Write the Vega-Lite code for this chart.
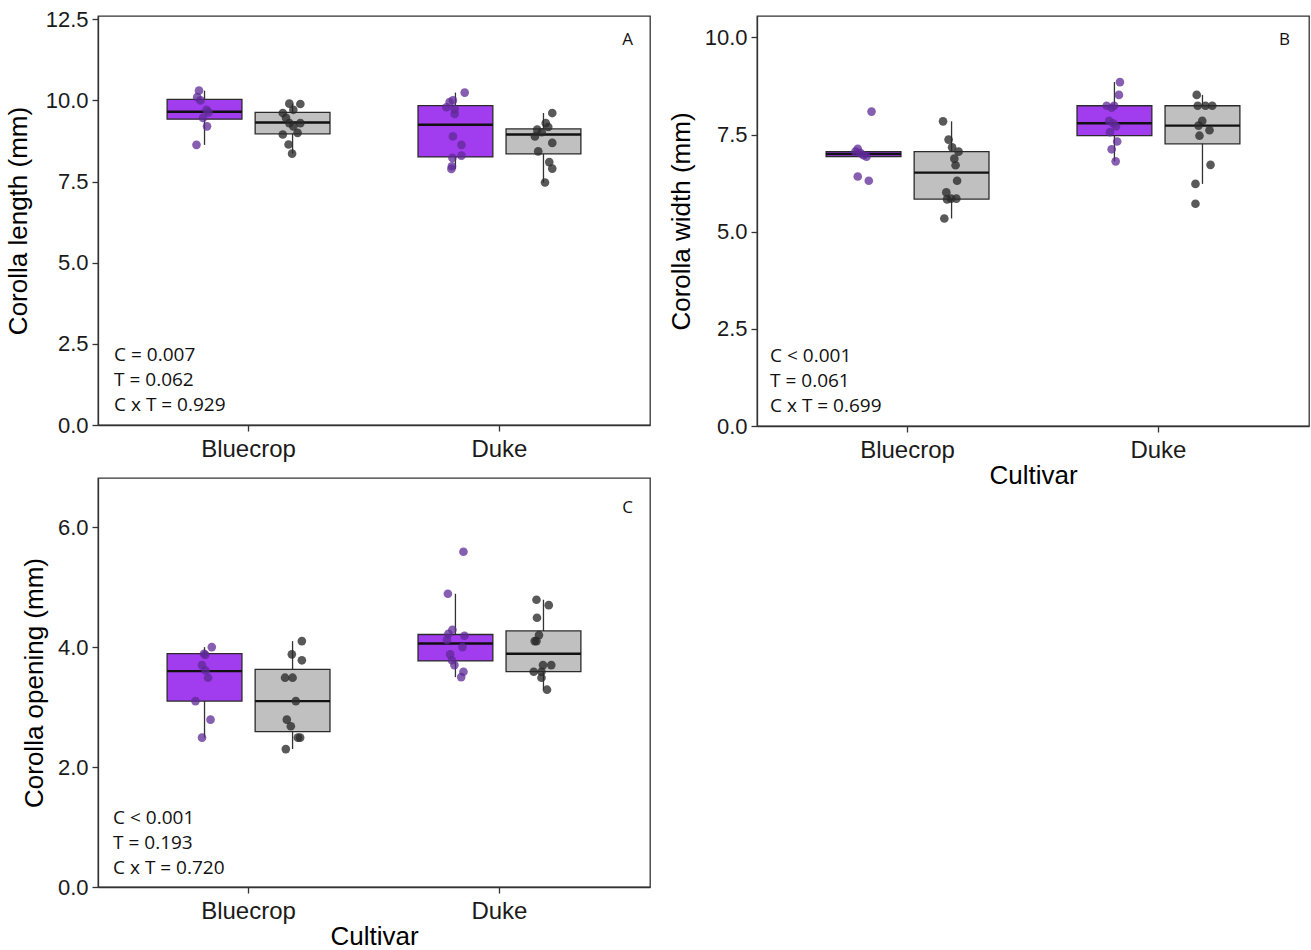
{
"$schema": "https://vega.github.io/schema/vega-lite/v6.json",
"padding": {"left": 4, "top": 7, "right": 2, "bottom": 2},
"background": "white",
"datasets": {
"pts": [
{"panel":"A","cultivar":"Bluecrop","treatment":"Treatment 1","value":10.30,"jitter":-0.022},
{"panel":"A","cultivar":"Bluecrop","treatment":"Treatment 1","value":10.10,"jitter":-0.029},
{"panel":"A","cultivar":"Bluecrop","treatment":"Treatment 1","value":10.00,"jitter":-0.016},
{"panel":"A","cultivar":"Bluecrop","treatment":"Treatment 1","value":9.71,"jitter":0.008},
{"panel":"A","cultivar":"Bluecrop","treatment":"Treatment 1","value":9.63,"jitter":0.016},
{"panel":"A","cultivar":"Bluecrop","treatment":"Treatment 1","value":9.46,"jitter":-0.006},
{"panel":"A","cultivar":"Bluecrop","treatment":"Treatment 1","value":9.20,"jitter":0.010},
{"panel":"A","cultivar":"Bluecrop","treatment":"Treatment 1","value":8.63,"jitter":-0.032},
{"panel":"A","cultivar":"Bluecrop","treatment":"Treatment 2","value":9.90,"jitter":-0.013},
{"panel":"A","cultivar":"Bluecrop","treatment":"Treatment 2","value":9.89,"jitter":0.031},
{"panel":"A","cultivar":"Bluecrop","treatment":"Treatment 2","value":9.71,"jitter":0.003},
{"panel":"A","cultivar":"Bluecrop","treatment":"Treatment 2","value":9.61,"jitter":-0.039},
{"panel":"A","cultivar":"Bluecrop","treatment":"Treatment 2","value":9.46,"jitter":-0.026},
{"panel":"A","cultivar":"Bluecrop","treatment":"Treatment 2","value":9.30,"jitter":-0.013},
{"panel":"A","cultivar":"Bluecrop","treatment":"Treatment 2","value":9.30,"jitter":0.031},
{"panel":"A","cultivar":"Bluecrop","treatment":"Treatment 2","value":9.20,"jitter":0.003},
{"panel":"A","cultivar":"Bluecrop","treatment":"Treatment 2","value":9.00,"jitter":0.020},
{"panel":"A","cultivar":"Bluecrop","treatment":"Treatment 2","value":8.95,"jitter":-0.039},
{"panel":"A","cultivar":"Bluecrop","treatment":"Treatment 2","value":8.64,"jitter":-0.016},
{"panel":"A","cultivar":"Bluecrop","treatment":"Treatment 2","value":8.36,"jitter":-0.002},
{"panel":"A","cultivar":"Duke","treatment":"Treatment 1","value":10.24,"jitter":0.037},
{"panel":"A","cultivar":"Duke","treatment":"Treatment 1","value":10.00,"jitter":-0.010},
{"panel":"A","cultivar":"Duke","treatment":"Treatment 1","value":9.95,"jitter":-0.023},
{"panel":"A","cultivar":"Duke","treatment":"Treatment 1","value":9.79,"jitter":-0.036},
{"panel":"A","cultivar":"Duke","treatment":"Treatment 1","value":9.73,"jitter":-0.003},
{"panel":"A","cultivar":"Duke","treatment":"Treatment 1","value":9.58,"jitter":-0.003},
{"panel":"A","cultivar":"Duke","treatment":"Treatment 1","value":8.89,"jitter":-0.010},
{"panel":"A","cultivar":"Duke","treatment":"Treatment 1","value":8.63,"jitter":0.024},
{"panel":"A","cultivar":"Duke","treatment":"Treatment 1","value":8.30,"jitter":0.024},
{"panel":"A","cultivar":"Duke","treatment":"Treatment 1","value":8.23,"jitter":-0.012},
{"panel":"A","cultivar":"Duke","treatment":"Treatment 1","value":7.97,"jitter":-0.014},
{"panel":"A","cultivar":"Duke","treatment":"Treatment 1","value":7.89,"jitter":-0.016},
{"panel":"A","cultivar":"Duke","treatment":"Treatment 2","value":9.61,"jitter":0.035},
{"panel":"A","cultivar":"Duke","treatment":"Treatment 2","value":9.30,"jitter":0.009},
{"panel":"A","cultivar":"Duke","treatment":"Treatment 2","value":9.18,"jitter":0.019},
{"panel":"A","cultivar":"Duke","treatment":"Treatment 2","value":9.10,"jitter":-0.025},
{"panel":"A","cultivar":"Duke","treatment":"Treatment 2","value":9.02,"jitter":-0.007},
{"panel":"A","cultivar":"Duke","treatment":"Treatment 2","value":8.89,"jitter":-0.034},
{"panel":"A","cultivar":"Duke","treatment":"Treatment 2","value":8.69,"jitter":0.035},
{"panel":"A","cultivar":"Duke","treatment":"Treatment 2","value":8.43,"jitter":-0.021},
{"panel":"A","cultivar":"Duke","treatment":"Treatment 2","value":8.10,"jitter":0.023},
{"panel":"A","cultivar":"Duke","treatment":"Treatment 2","value":7.90,"jitter":0.035},
{"panel":"A","cultivar":"Duke","treatment":"Treatment 2","value":7.47,"jitter":0.006},
{"panel":"B","cultivar":"Bluecrop","treatment":"Treatment 1","value":8.09,"jitter":0.032},
{"panel":"B","cultivar":"Bluecrop","treatment":"Treatment 1","value":7.13,"jitter":-0.023},
{"panel":"B","cultivar":"Bluecrop","treatment":"Treatment 1","value":7.06,"jitter":-0.032},
{"panel":"B","cultivar":"Bluecrop","treatment":"Treatment 1","value":7.02,"jitter":-0.012},
{"panel":"B","cultivar":"Bluecrop","treatment":"Treatment 1","value":6.97,"jitter":0.000},
{"panel":"B","cultivar":"Bluecrop","treatment":"Treatment 1","value":6.93,"jitter":0.012},
{"panel":"B","cultivar":"Bluecrop","treatment":"Treatment 1","value":6.42,"jitter":-0.023},
{"panel":"B","cultivar":"Bluecrop","treatment":"Treatment 1","value":6.31,"jitter":0.021},
{"panel":"B","cultivar":"Bluecrop","treatment":"Treatment 2","value":7.84,"jitter":-0.034},
{"panel":"B","cultivar":"Bluecrop","treatment":"Treatment 2","value":7.37,"jitter":-0.012},
{"panel":"B","cultivar":"Bluecrop","treatment":"Treatment 2","value":7.17,"jitter":0.002},
{"panel":"B","cultivar":"Bluecrop","treatment":"Treatment 2","value":7.06,"jitter":0.028},
{"panel":"B","cultivar":"Bluecrop","treatment":"Treatment 2","value":6.88,"jitter":0.011},
{"panel":"B","cultivar":"Bluecrop","treatment":"Treatment 2","value":6.71,"jitter":0.016},
{"panel":"B","cultivar":"Bluecrop","treatment":"Treatment 2","value":6.31,"jitter":0.022},
{"panel":"B","cultivar":"Bluecrop","treatment":"Treatment 2","value":6.01,"jitter":-0.021},
{"panel":"B","cultivar":"Bluecrop","treatment":"Treatment 2","value":5.83,"jitter":-0.018},
{"panel":"B","cultivar":"Bluecrop","treatment":"Treatment 2","value":5.85,"jitter":-0.002},
{"panel":"B","cultivar":"Bluecrop","treatment":"Treatment 2","value":5.85,"jitter":0.019},
{"panel":"B","cultivar":"Bluecrop","treatment":"Treatment 2","value":5.34,"jitter":-0.029},
{"panel":"B","cultivar":"Duke","treatment":"Treatment 1","value":8.85,"jitter":0.022},
{"panel":"B","cultivar":"Duke","treatment":"Treatment 1","value":8.52,"jitter":0.018},
{"panel":"B","cultivar":"Duke","treatment":"Treatment 1","value":8.24,"jitter":-0.031},
{"panel":"B","cultivar":"Duke","treatment":"Treatment 1","value":8.19,"jitter":-0.011},
{"panel":"B","cultivar":"Duke","treatment":"Treatment 1","value":8.24,"jitter":-0.001},
{"panel":"B","cultivar":"Duke","treatment":"Treatment 1","value":7.85,"jitter":-0.021},
{"panel":"B","cultivar":"Duke","treatment":"Treatment 1","value":7.79,"jitter":-0.005},
{"panel":"B","cultivar":"Duke","treatment":"Treatment 1","value":7.71,"jitter":0.006},
{"panel":"B","cultivar":"Duke","treatment":"Treatment 1","value":7.56,"jitter":-0.018},
{"panel":"B","cultivar":"Duke","treatment":"Treatment 1","value":7.32,"jitter":0.011},
{"panel":"B","cultivar":"Duke","treatment":"Treatment 1","value":7.12,"jitter":-0.011},
{"panel":"B","cultivar":"Duke","treatment":"Treatment 1","value":6.81,"jitter":0.005},
{"panel":"B","cultivar":"Duke","treatment":"Treatment 2","value":8.52,"jitter":-0.023},
{"panel":"B","cultivar":"Duke","treatment":"Treatment 2","value":8.24,"jitter":-0.019},
{"panel":"B","cultivar":"Duke","treatment":"Treatment 2","value":8.24,"jitter":0.012},
{"panel":"B","cultivar":"Duke","treatment":"Treatment 2","value":8.24,"jitter":0.039},
{"panel":"B","cultivar":"Duke","treatment":"Treatment 2","value":7.85,"jitter":-0.001},
{"panel":"B","cultivar":"Duke","treatment":"Treatment 2","value":7.73,"jitter":-0.016},
{"panel":"B","cultivar":"Duke","treatment":"Treatment 2","value":7.61,"jitter":0.028},
{"panel":"B","cultivar":"Duke","treatment":"Treatment 2","value":7.47,"jitter":-0.012},
{"panel":"B","cultivar":"Duke","treatment":"Treatment 2","value":6.72,"jitter":0.032},
{"panel":"B","cultivar":"Duke","treatment":"Treatment 2","value":6.23,"jitter":-0.028},
{"panel":"B","cultivar":"Duke","treatment":"Treatment 2","value":5.72,"jitter":-0.028},
{"panel":"C","cultivar":"Bluecrop","treatment":"Treatment 1","value":4.00,"jitter":0.029},
{"panel":"C","cultivar":"Bluecrop","treatment":"Treatment 1","value":3.89,"jitter":-0.002},
{"panel":"C","cultivar":"Bluecrop","treatment":"Treatment 1","value":3.87,"jitter":0.003},
{"panel":"C","cultivar":"Bluecrop","treatment":"Treatment 1","value":3.70,"jitter":-0.010},
{"panel":"C","cultivar":"Bluecrop","treatment":"Treatment 1","value":3.61,"jitter":0.004},
{"panel":"C","cultivar":"Bluecrop","treatment":"Treatment 1","value":3.49,"jitter":0.014},
{"panel":"C","cultivar":"Bluecrop","treatment":"Treatment 1","value":3.10,"jitter":-0.036},
{"panel":"C","cultivar":"Bluecrop","treatment":"Treatment 1","value":2.79,"jitter":0.024},
{"panel":"C","cultivar":"Bluecrop","treatment":"Treatment 1","value":2.49,"jitter":-0.010},
{"panel":"C","cultivar":"Bluecrop","treatment":"Treatment 2","value":4.10,"jitter":0.037},
{"panel":"C","cultivar":"Bluecrop","treatment":"Treatment 2","value":3.88,"jitter":-0.003},
{"panel":"C","cultivar":"Bluecrop","treatment":"Treatment 2","value":3.78,"jitter":0.037},
{"panel":"C","cultivar":"Bluecrop","treatment":"Treatment 2","value":3.49,"jitter":-0.030},
{"panel":"C","cultivar":"Bluecrop","treatment":"Treatment 2","value":3.49,"jitter":0.000},
{"panel":"C","cultivar":"Bluecrop","treatment":"Treatment 2","value":3.10,"jitter":0.013},
{"panel":"C","cultivar":"Bluecrop","treatment":"Treatment 2","value":2.79,"jitter":-0.023},
{"panel":"C","cultivar":"Bluecrop","treatment":"Treatment 2","value":2.68,"jitter":-0.007},
{"panel":"C","cultivar":"Bluecrop","treatment":"Treatment 2","value":2.49,"jitter":0.021},
{"panel":"C","cultivar":"Bluecrop","treatment":"Treatment 2","value":2.49,"jitter":0.030},
{"panel":"C","cultivar":"Bluecrop","treatment":"Treatment 2","value":2.30,"jitter":-0.027},
{"panel":"C","cultivar":"Duke","treatment":"Treatment 1","value":5.59,"jitter":0.032},
{"panel":"C","cultivar":"Duke","treatment":"Treatment 1","value":4.89,"jitter":-0.030},
{"panel":"C","cultivar":"Duke","treatment":"Treatment 1","value":4.29,"jitter":-0.012},
{"panel":"C","cultivar":"Duke","treatment":"Treatment 1","value":4.22,"jitter":-0.028},
{"panel":"C","cultivar":"Duke","treatment":"Treatment 1","value":4.19,"jitter":0.036},
{"panel":"C","cultivar":"Duke","treatment":"Treatment 1","value":4.12,"jitter":-0.034},
{"panel":"C","cultivar":"Duke","treatment":"Treatment 1","value":4.00,"jitter":0.028},
{"panel":"C","cultivar":"Duke","treatment":"Treatment 1","value":3.88,"jitter":-0.021},
{"panel":"C","cultivar":"Duke","treatment":"Treatment 1","value":3.78,"jitter":-0.014},
{"panel":"C","cultivar":"Duke","treatment":"Treatment 1","value":3.70,"jitter":-0.004},
{"panel":"C","cultivar":"Duke","treatment":"Treatment 1","value":3.59,"jitter":0.032},
{"panel":"C","cultivar":"Duke","treatment":"Treatment 1","value":3.50,"jitter":0.023},
{"panel":"C","cultivar":"Duke","treatment":"Treatment 2","value":4.79,"jitter":-0.028},
{"panel":"C","cultivar":"Duke","treatment":"Treatment 2","value":4.70,"jitter":0.021},
{"panel":"C","cultivar":"Duke","treatment":"Treatment 2","value":4.49,"jitter":-0.026},
{"panel":"C","cultivar":"Duke","treatment":"Treatment 2","value":4.20,"jitter":-0.018},
{"panel":"C","cultivar":"Duke","treatment":"Treatment 2","value":4.10,"jitter":-0.035},
{"panel":"C","cultivar":"Duke","treatment":"Treatment 2","value":4.10,"jitter":-0.028},
{"panel":"C","cultivar":"Duke","treatment":"Treatment 2","value":3.70,"jitter":-0.002},
{"panel":"C","cultivar":"Duke","treatment":"Treatment 2","value":3.70,"jitter":0.031},
{"panel":"C","cultivar":"Duke","treatment":"Treatment 2","value":3.59,"jitter":-0.039},
{"panel":"C","cultivar":"Duke","treatment":"Treatment 2","value":3.59,"jitter":-0.008},
{"panel":"C","cultivar":"Duke","treatment":"Treatment 2","value":3.49,"jitter":-0.008},
{"panel":"C","cultivar":"Duke","treatment":"Treatment 2","value":3.29,"jitter":0.014}
],
"box": [
{"panel":"A","cultivar":"Bluecrop","treatment":"Treatment 1","lower":8.63,"q1":9.42,"median":9.65,"q3":10.03,"upper":10.30},
{"panel":"A","cultivar":"Bluecrop","treatment":"Treatment 2","lower":8.36,"q1":8.97,"median":9.32,"q3":9.63,"upper":9.90},
{"panel":"A","cultivar":"Duke","treatment":"Treatment 1","lower":7.89,"q1":8.26,"median":9.25,"q3":9.84,"upper":10.24},
{"panel":"A","cultivar":"Duke","treatment":"Treatment 2","lower":7.47,"q1":8.35,"median":8.95,"q3":9.12,"upper":9.61},
{"panel":"B","cultivar":"Bluecrop","treatment":"Treatment 1","lower":6.93,"q1":6.93,"median":7.00,"q3":7.06,"upper":7.06},
{"panel":"B","cultivar":"Bluecrop","treatment":"Treatment 2","lower":5.34,"q1":5.84,"median":6.52,"q3":7.06,"upper":7.84},
{"panel":"B","cultivar":"Duke","treatment":"Treatment 1","lower":6.81,"q1":7.47,"median":7.79,"q3":8.24,"upper":8.85},
{"panel":"B","cultivar":"Duke","treatment":"Treatment 2","lower":6.23,"q1":7.26,"median":7.73,"q3":8.24,"upper":8.52},
{"panel":"C","cultivar":"Bluecrop","treatment":"Treatment 1","lower":2.49,"q1":3.10,"median":3.60,"q3":3.89,"upper":4.00},
{"panel":"C","cultivar":"Bluecrop","treatment":"Treatment 2","lower":2.30,"q1":2.59,"median":3.10,"q3":3.63,"upper":4.10},
{"panel":"C","cultivar":"Duke","treatment":"Treatment 1","lower":3.50,"q1":3.77,"median":4.06,"q3":4.21,"upper":4.89},
{"panel":"C","cultivar":"Duke","treatment":"Treatment 2","lower":3.29,"q1":3.59,"median":3.89,"q3":4.27,"upper":4.79}
],
"notes": [
{"panel":"A","stats":"C = 0.007\nT = 0.062\nC x T = 0.929","letter":"A"},
{"panel":"B","stats":"C < 0.001\nT = 0.061\nC x T = 0.699","letter":"B"},
{"panel":"C","stats":"C < 0.001\nT = 0.193\nC x T = 0.720","letter":"C"}
]
},
"columns": 2,
"bounds": "flush",
"spacing": {"row": 52, "column": 107},
"concat": [
{
"width": 552, "height": 409,
"encoding": {"x": {"field": "cultivar", "type": "nominal", "sort": ["Bluecrop","Duke"], "scale": {"type": "band", "paddingInner": 0, "paddingOuter": 0.1}, "axis": {"title": null, "labelAngle": 0, "labelFontSize": 24, "labelPadding": 6, "titlePadding": 0}}},
"layer": [
{"data": {"name": "box"}, "transform": [{"filter": "datum.panel == 'A'"}],
 "mark": {"type": "rule", "color": "#333333", "strokeWidth": 1.3},
 "encoding": {"xOffset": {"field": "treatment", "type": "nominal", "sort": ["Treatment 1","Treatment 2"], "scale": {"paddingInner": 0.15, "paddingOuter": 0.5}},
  "y": {"field": "lower", "type": "quantitative", "scale": {"domain": [0, 12.6], "nice": false}, "axis": {"title": "Corolla length (mm)", "values": [0, 2.5, 5, 7.5, 10, 12.5], "format": ".1f", "titlePadding": 14}},
  "y2": {"field": "upper"}}},
{"data": {"name": "box"}, "transform": [{"filter": "datum.panel == 'A'"}],
 "mark": {"type": "bar", "stroke": "#2b2b2b", "strokeWidth": 1.3},
 "encoding": {"xOffset": {"field": "treatment", "type": "nominal", "sort": ["Treatment 1","Treatment 2"], "scale": {"paddingInner": 0.15, "paddingOuter": 0.5}},
  "y": {"field": "q1", "type": "quantitative"}, "y2": {"field": "q3"},
  "color": {"field": "treatment", "type": "nominal", "scale": {"domain": ["Treatment 1","Treatment 2"], "range": ["#A23DEF","#C0C0C0"]}, "legend": null}}},
{"data": {"name": "box"}, "transform": [{"filter": "datum.panel == 'A'"}],
 "mark": {"type": "bar", "fillOpacity": 0, "stroke": "#111111", "strokeWidth": 2.4},
 "encoding": {"xOffset": {"field": "treatment", "type": "nominal", "sort": ["Treatment 1","Treatment 2"], "scale": {"paddingInner": 0.15, "paddingOuter": 0.5}},
  "y": {"field": "median", "type": "quantitative"}, "y2": {"field": "median"}}},
{"data": {"name": "pts"}, "transform": [{"filter": "datum.panel == 'A' && datum.treatment == 'Treatment 1'"}],
 "mark": {"type": "point", "filled": true, "size": 75, "color": "#5e2a96", "opacity": 0.75},
 "encoding": {"xOffset": {"field": "jitter", "type": "quantitative", "scale": {"domain": [-0.3245, 0.6755], "zero": false, "nice": false}},
  "y": {"field": "value", "type": "quantitative"}}},
{"data": {"name": "pts"}, "transform": [{"filter": "datum.panel == 'A' && datum.treatment == 'Treatment 2'"}],
 "mark": {"type": "point", "filled": true, "size": 75, "color": "#2a2a2a", "opacity": 0.78},
 "encoding": {"xOffset": {"field": "jitter", "type": "quantitative", "scale": {"domain": [-0.6755, 0.3245], "zero": false, "nice": false}},
  "y": {"field": "value", "type": "quantitative"}}},
{"data": {"name": "notes"}, "transform": [{"filter": "datum.panel == 'A'"}],
 "mark": {"type": "text", "align": "left", "baseline": "alphabetic", "lineBreak": "\n", "lineHeight": 25, "font": "Open Sans", "fontSize": 19, "color": "#111111", "dx": -9, "dy": -64},
 "encoding": {"x": {"datum": "Bluecrop", "bandPosition": 0}, "y": {"datum": 0}, "text": {"field": "stats", "type": "nominal"}}},
{"data": {"name": "notes"}, "transform": [{"filter": "datum.panel == 'A'"}],
 "mark": {"type": "text", "align": "right", "baseline": "alphabetic", "font": "Open Sans", "fontSize": 17, "color": "#111111", "dx": 8, "dy": 29},
 "encoding": {"x": {"datum": "Duke", "bandPosition": 1}, "y": {"datum": 12.6}, "text": {"field": "letter", "type": "nominal"}}}
],
"resolve": {"scale": {"xOffset": "independent"}}
},
{
"width": 552, "height": 410,
"encoding": {"x": {"field": "cultivar", "type": "nominal", "sort": ["Bluecrop","Duke"], "scale": {"type": "band", "paddingInner": 0, "paddingOuter": 0.1}, "axis": {"title": "Cultivar", "labelAngle": 0, "labelFontSize": 24, "labelPadding": 6, "titlePadding": 0}}},
"layer": [
{"data": {"name": "box"}, "transform": [{"filter": "datum.panel == 'B'"}],
 "mark": {"type": "rule", "color": "#333333", "strokeWidth": 1.3},
 "encoding": {"xOffset": {"field": "treatment", "type": "nominal", "sort": ["Treatment 1","Treatment 2"], "scale": {"paddingInner": 0.15, "paddingOuter": 0.5}},
  "y": {"field": "lower", "type": "quantitative", "scale": {"domain": [0, 10.55], "nice": false}, "axis": {"title": "Corolla width (mm)", "values": [0, 2.5, 5, 7.5, 10], "format": ".1f", "titlePadding": 10}},
  "y2": {"field": "upper"}}},
{"data": {"name": "box"}, "transform": [{"filter": "datum.panel == 'B'"}],
 "mark": {"type": "bar", "stroke": "#2b2b2b", "strokeWidth": 1.3},
 "encoding": {"xOffset": {"field": "treatment", "type": "nominal", "sort": ["Treatment 1","Treatment 2"], "scale": {"paddingInner": 0.15, "paddingOuter": 0.5}},
  "y": {"field": "q1", "type": "quantitative"}, "y2": {"field": "q3"},
  "color": {"field": "treatment", "type": "nominal", "scale": {"domain": ["Treatment 1","Treatment 2"], "range": ["#A23DEF","#C0C0C0"]}, "legend": null}}},
{"data": {"name": "box"}, "transform": [{"filter": "datum.panel == 'B'"}],
 "mark": {"type": "bar", "fillOpacity": 0, "stroke": "#111111", "strokeWidth": 2.4},
 "encoding": {"xOffset": {"field": "treatment", "type": "nominal", "sort": ["Treatment 1","Treatment 2"], "scale": {"paddingInner": 0.15, "paddingOuter": 0.5}},
  "y": {"field": "median", "type": "quantitative"}, "y2": {"field": "median"}}},
{"data": {"name": "pts"}, "transform": [{"filter": "datum.panel == 'B' && datum.treatment == 'Treatment 1'"}],
 "mark": {"type": "point", "filled": true, "size": 75, "color": "#5e2a96", "opacity": 0.75},
 "encoding": {"xOffset": {"field": "jitter", "type": "quantitative", "scale": {"domain": [-0.3245, 0.6755], "zero": false, "nice": false}},
  "y": {"field": "value", "type": "quantitative"}}},
{"data": {"name": "pts"}, "transform": [{"filter": "datum.panel == 'B' && datum.treatment == 'Treatment 2'"}],
 "mark": {"type": "point", "filled": true, "size": 75, "color": "#2a2a2a", "opacity": 0.78},
 "encoding": {"xOffset": {"field": "jitter", "type": "quantitative", "scale": {"domain": [-0.6755, 0.3245], "zero": false, "nice": false}},
  "y": {"field": "value", "type": "quantitative"}}},
{"data": {"name": "notes"}, "transform": [{"filter": "datum.panel == 'B'"}],
 "mark": {"type": "text", "align": "left", "baseline": "alphabetic", "lineBreak": "\n", "lineHeight": 25, "font": "Open Sans", "fontSize": 19, "color": "#111111", "dx": -12, "dy": -64},
 "encoding": {"x": {"datum": "Bluecrop", "bandPosition": 0}, "y": {"datum": 0}, "text": {"field": "stats", "type": "nominal"}}},
{"data": {"name": "notes"}, "transform": [{"filter": "datum.panel == 'B'"}],
 "mark": {"type": "text", "align": "right", "baseline": "alphabetic", "font": "Open Sans", "fontSize": 17, "color": "#111111", "dx": 6, "dy": 29},
 "encoding": {"x": {"datum": "Duke", "bandPosition": 1}, "y": {"datum": 10.55}, "text": {"field": "letter", "type": "nominal"}}}
],
"resolve": {"scale": {"xOffset": "independent"}}
},
{
"width": 552, "height": 409,
"encoding": {"x": {"field": "cultivar", "type": "nominal", "sort": ["Bluecrop","Duke"], "scale": {"type": "band", "paddingInner": 0, "paddingOuter": 0.1}, "axis": {"title": "Cultivar", "labelAngle": 0, "labelFontSize": 24, "labelPadding": 6, "titlePadding": 0}}},
"layer": [
{"data": {"name": "box"}, "transform": [{"filter": "datum.panel == 'C'"}],
 "mark": {"type": "rule", "color": "#333333", "strokeWidth": 1.3},
 "encoding": {"xOffset": {"field": "treatment", "type": "nominal", "sort": ["Treatment 1","Treatment 2"], "scale": {"paddingInner": 0.15, "paddingOuter": 0.5}},
  "y": {"field": "lower", "type": "quantitative", "scale": {"domain": [0, 6.82], "nice": false}, "axis": {"title": "Corolla opening (mm)", "values": [0, 2, 4, 6], "format": ".1f", "titlePadding": 10}},
  "y2": {"field": "upper"}}},
{"data": {"name": "box"}, "transform": [{"filter": "datum.panel == 'C'"}],
 "mark": {"type": "bar", "stroke": "#2b2b2b", "strokeWidth": 1.3},
 "encoding": {"xOffset": {"field": "treatment", "type": "nominal", "sort": ["Treatment 1","Treatment 2"], "scale": {"paddingInner": 0.15, "paddingOuter": 0.5}},
  "y": {"field": "q1", "type": "quantitative"}, "y2": {"field": "q3"},
  "color": {"field": "treatment", "type": "nominal", "scale": {"domain": ["Treatment 1","Treatment 2"], "range": ["#A23DEF","#C0C0C0"]}, "legend": null}}},
{"data": {"name": "box"}, "transform": [{"filter": "datum.panel == 'C'"}],
 "mark": {"type": "bar", "fillOpacity": 0, "stroke": "#111111", "strokeWidth": 2.4},
 "encoding": {"xOffset": {"field": "treatment", "type": "nominal", "sort": ["Treatment 1","Treatment 2"], "scale": {"paddingInner": 0.15, "paddingOuter": 0.5}},
  "y": {"field": "median", "type": "quantitative"}, "y2": {"field": "median"}}},
{"data": {"name": "pts"}, "transform": [{"filter": "datum.panel == 'C' && datum.treatment == 'Treatment 1'"}],
 "mark": {"type": "point", "filled": true, "size": 75, "color": "#5e2a96", "opacity": 0.75},
 "encoding": {"xOffset": {"field": "jitter", "type": "quantitative", "scale": {"domain": [-0.3245, 0.6755], "zero": false, "nice": false}},
  "y": {"field": "value", "type": "quantitative"}}},
{"data": {"name": "pts"}, "transform": [{"filter": "datum.panel == 'C' && datum.treatment == 'Treatment 2'"}],
 "mark": {"type": "point", "filled": true, "size": 75, "color": "#2a2a2a", "opacity": 0.78},
 "encoding": {"xOffset": {"field": "jitter", "type": "quantitative", "scale": {"domain": [-0.6755, 0.3245], "zero": false, "nice": false}},
  "y": {"field": "value", "type": "quantitative"}}},
{"data": {"name": "notes"}, "transform": [{"filter": "datum.panel == 'C'"}],
 "mark": {"type": "text", "align": "left", "baseline": "alphabetic", "lineBreak": "\n", "lineHeight": 25, "font": "Open Sans", "fontSize": 19, "color": "#111111", "dx": -10, "dy": -63},
 "encoding": {"x": {"datum": "Bluecrop", "bandPosition": 0}, "y": {"datum": 0}, "text": {"field": "stats", "type": "nominal"}}},
{"data": {"name": "notes"}, "transform": [{"filter": "datum.panel == 'C'"}],
 "mark": {"type": "text", "align": "right", "baseline": "alphabetic", "font": "Open Sans", "fontSize": 17, "color": "#111111", "dx": 8, "dy": 35},
 "encoding": {"x": {"datum": "Duke", "bandPosition": 1}, "y": {"datum": 6.82}, "text": {"field": "letter", "type": "nominal"}}}
],
"resolve": {"scale": {"xOffset": "independent"}}
}
],
"config": {
 "view": {"stroke": "#333333", "strokeWidth": 1.3},
 "axis": {"grid": false, "domainColor": "#333333", "domainWidth": 1.3, "tickColor": "#333333", "tickWidth": 1.3, "tickSize": 6, "labelPadding": 4, "labelColor": "#1a1a1a", "labelFont": "Liberation Sans", "labelFontSize": 22, "titleFont": "Liberation Sans", "titleFontSize": 26, "titleFontWeight": "normal", "titleColor": "#000000", "titlePadding": 6}
}
}
